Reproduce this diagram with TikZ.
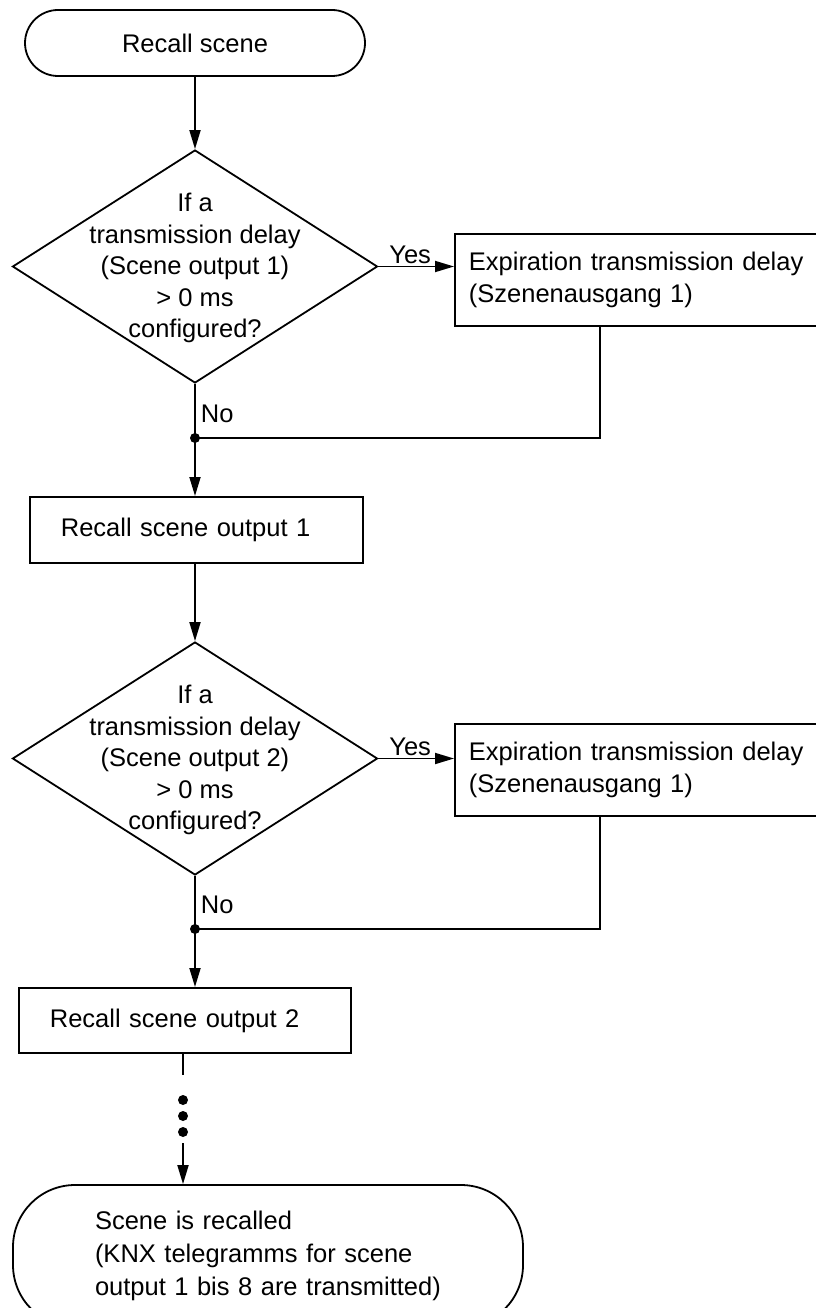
\documentclass[tikz,border=0pt]{standalone}
\usepackage{fontspec}
\setmainfont{Liberation Sans}
\usetikzlibrary{arrows.meta,positioning,shapes.geometric}

\begin{document}
\begin{tikzpicture}[x=1pt, y=-1pt,
  shapebox/.style={draw, line width=1.8pt, font=\fontsize{25.5}{32}\selectfont},
  terminal/.style={shapebox, rounded corners=#1, align=center},
  procbox/.style={shapebox, align=left, minimum height=66pt, anchor=north west},
  decision/.style={draw, line width=1.8pt, shape=diamond, minimum width=365pt, minimum height=233pt, inner sep=0pt},
  qtext/.style={align=center, font=\fontsize{25.5}{31.5}\selectfont},
  lbl/.style={font=\fontsize{25.5}{30}\selectfont},
  conn/.style={line width=1.8pt},
  arr/.style={conn, -{Triangle[length=19pt, width=11pt]}},
  joint/.style={circle, fill, inner sep=0pt, minimum size=10pt}
]
\useasboundingbox (0,0) rectangle (815,1308);

% first scene output
\node[terminal=33pt, minimum width=340pt, minimum height=66pt] (start) at (195,43) {Recall scene};
\node[decision] (dec1) at (195,266.5) {};
\node[qtext] (q1) at (195,268) {If a\\transmission delay\\(Scene output 1)\\> 0 ms\\configured?};
\node[procbox, text width=338pt, inner xsep=14pt, minimum height=92pt] (exp1) at (454,233)
  {Expiration transmission delay\\(Szenenausgang 1)};
\coordinate (j1) at (195,438);
\node[procbox, text width=271pt, inner xsep=31pt] (proc1) at (29,496) {Recall scene output 1};

% second scene output
\node[decision] (dec2) at (195,758.5) {};
\node[qtext] (q2) at (195,760) {If a\\transmission delay\\(Scene output 2)\\> 0 ms\\configured?};
\node[procbox, text width=338pt, inner xsep=14pt, minimum height=92pt] (exp2) at (454,723)
  {Expiration transmission delay\\(Szenenausgang 1)};
\coordinate (j2) at (195,929);
\node[procbox, text width=270pt, inner xsep=31pt, minimum height=65pt] (proc2) at (18,987) {Recall scene output 2};

% end
\coordinate (gap1) at (183,1075);
\coordinate (gap2) at (183,1143);
\node[terminal=62pt, align=left, text width=346pt, minimum width=510pt, minimum height=142pt,
  font=\fontsize{25.5}{33}\selectfont] (fin) at (268,1256)
  {Scene is recalled\\(KNX telegramms for scene\\output 1 bis 8 are transmitted)};

\draw[arr] (start) -- (dec1);
\draw[arr] (dec1.east) -- node[lbl, above, pos=0.42, inner sep=2pt] (yes1) {Yes} (dec1.east -| exp1.west);
\draw[conn] (dec1.south) -- node[lbl, right, pos=0.545, inner xsep=5pt] (no1) {No} (j1);
\draw[conn] (exp1.south west) ++(146,0) |- (j1);
\draw[arr] (j1) -- (j1 |- proc1.north);
\node[joint] (dot1) at (j1) {};
\draw[arr] (dec2.north |- proc1.south) -- (dec2.north);

\draw[arr] (dec2.east) -- node[lbl, above, pos=0.42, inner sep=2pt] (yes2) {Yes} (dec2.east -| exp2.west);
\draw[conn] (dec2.south) -- node[lbl, right, pos=0.545, inner xsep=5pt] (no2) {No} (j2);
\draw[conn] (exp2.south west) ++(146,0) |- (j2);
\draw[arr] (j2) -- (j2 |- proc2.north);
\node[joint] (dot2) at (j2) {};

\draw[conn] (gap1 |- proc2.south) -- (gap1);
\foreach \y [count=\i] in {1100,1116,1132}
  \node[joint] (more\i) at (183,\y) {};
\draw[arr] (gap2) -- (gap2 |- fin.north);

\end{tikzpicture}
\end{document}
